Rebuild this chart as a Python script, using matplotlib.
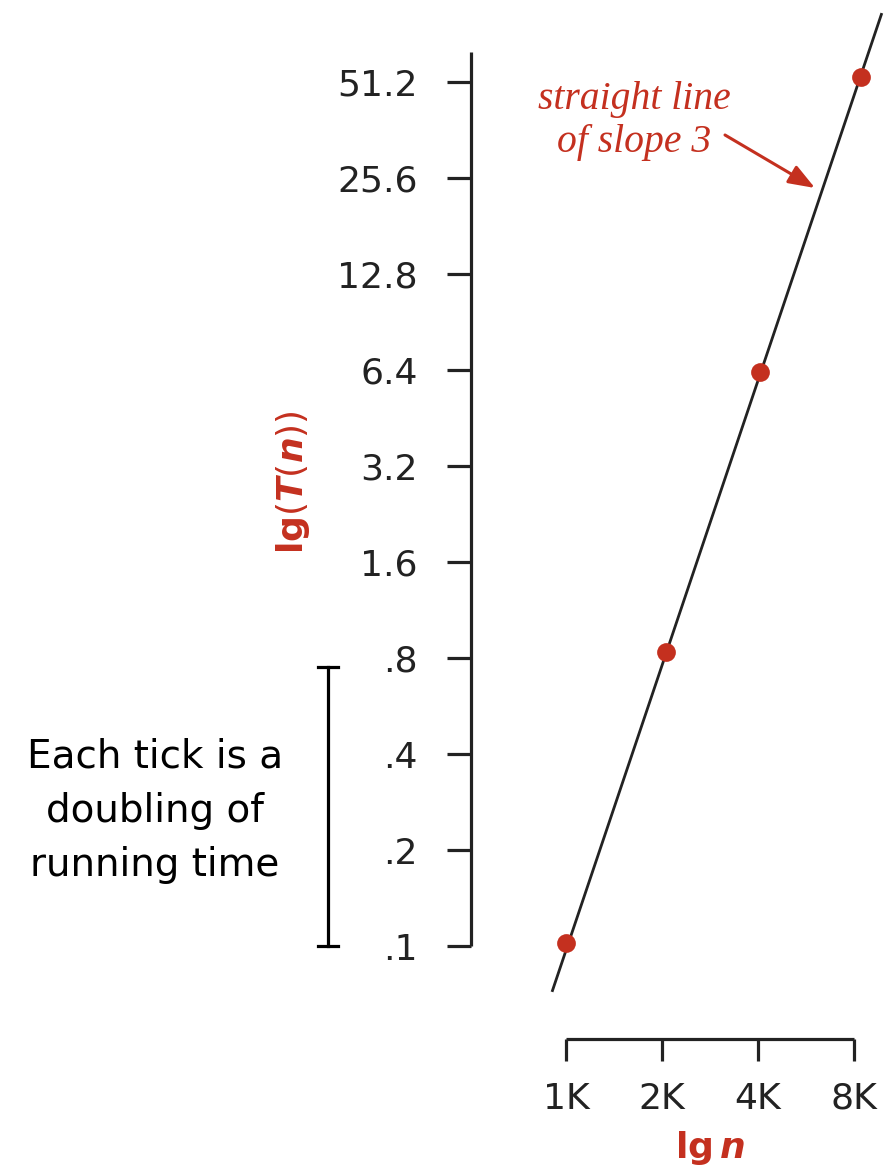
import matplotlib
matplotlib.use("Agg")
import matplotlib.pyplot as plt
from matplotlib.transforms import blended_transform_factory

# -----------------------------
# Data
# -----------------------------
n_ticks = [1000, 2000, 4000, 8000]
n_labels = ["1K", "2K", "4K", "8K"]
t_ticks = [0.1, 0.2, 0.4, 0.8, 1.6, 3.2, 6.4, 12.8, 25.6, 51.2]
t_labels = [".1", ".2", ".4", ".8", "1.6", "3.2", "6.4", "12.8", "25.6", "51.2"]

# measured running times
n_obs = [1000, 2060, 4060, 8400]
t_obs = [0.102, 0.835, 6.3, 53.0]

# fitted line of slope 3 on the log-log plot
n_fit = [904, 9780]
t_fit = [0.0718, 84.2]

RED = "#c4301f"
INK = "#222222"

plt.rcParams["font.family"] = ["DejaVu Sans"]
plt.rcParams["mathtext.fontset"] = "dejavusans"

# -----------------------------
# Figure: one axes filling the canvas, log2 on both sides
# -----------------------------
W, H = 891, 1169
fig = plt.figure(figsize=(W / 100, H / 100), dpi=100)
ax = fig.add_axes([0, 0, 1, 1])
ax.set_xscale("log", base=2)
ax.set_yscale("log", base=2)

step = 96.0          # pixels per doubling
x0, y0 = 566, 946    # where 1K and .1 sit
ax.set_xlim(1000 * 2 ** (-x0 / step), 1000 * 2 ** ((W - x0) / step))
ax.set_ylim(0.1 * 2 ** (-(H - y0) / step), 0.1 * 2 ** (y0 / step))
ax.patch.set_alpha(0)

# detached axis lines
for side in ["top", "right"]:
    ax.spines[side].set_visible(False)
ax.spines["left"].set_position(("axes", 471 / W))
ax.spines["left"].set_bounds(0.1, 0.1 * 2 ** ((y0 - 52) / step))
ax.spines["bottom"].set_position(("axes", 1 - 1039 / H))
ax.spines["bottom"].set_bounds(1000, 8000)
for side in ["left", "bottom"]:
    ax.spines[side].set_linewidth(2.3)
    ax.spines[side].set_color(INK)
    ax.spines[side].set_capstyle("butt")

ax.set_yticks(t_ticks)
ax.set_yticklabels(t_labels)
ax.set_xticks(n_ticks)
ax.set_xticklabels(n_labels)
ax.minorticks_off()
ax.tick_params(axis="y", direction="out", length=17.3, width=2.3, color=INK,
               pad=21, labelsize=26, labelcolor=INK)
ax.tick_params(axis="x", direction="out", length=15.8, width=2.3, color=INK,
               pad=15, labelsize=26, labelcolor=INK)

# line and points
ax.plot(n_fit, t_fit, color=INK, lw=2.0, solid_capstyle="butt", zorder=2)
ax.plot(n_obs, t_obs, "o", color=RED, markersize=13.5, markeredgewidth=0, zorder=3)

# axis titles
fig.text(710 / W, 1 - 1148 / H, r"$\mathbf{lg}\,\mathbfit{n}$", color=RED,
         fontsize=26, ha="center", va="center")
fig.text(293 / W, 1 - 482 / H, r"$\mathbf{lg}\mathrm{(}\mathbfit{T}\mathrm{(}\mathbfit{n}\mathrm{))}$",
         color=RED, fontsize=26, ha="center", va="center", rotation=90)

# annotation for the fitted line
fig.text(634 / W, 1 - 121 / H, "straight line\nof slope 3", color=RED,
         family="Liberation Serif", style="italic", fontsize=28.5,
         ha="center", va="center", linespacing=1.22)
ax.annotate("", xy=(815, H - 188), xytext=(725, H - 135),
            xycoords="figure pixels", textcoords="figure pixels",
            arrowprops=dict(arrowstyle="-|>,head_length=0.8,head_width=0.3",
                            mutation_scale=20, color=RED, lw=2.2,
                            shrinkA=0, shrinkB=0))

# bracket showing the span of three doublings
trans = blended_transform_factory(fig.transFigure, ax.transData)
bx, cap = 328 / W, 10 / W
br_lo, br_hi = 0.1, 0.75
ax.plot([bx, bx], [br_lo, br_hi], color="black", lw=2.3, transform=trans)
ax.plot([bx - cap, bx + cap], [br_hi, br_hi], color="black", lw=2.3, transform=trans)
ax.plot([bx - cap, bx + cap], [br_lo, br_lo], color="black", lw=2.3, transform=trans)

fig.text(155 / W, 1 - 811 / H, "Each tick is a\ndoubling of\nrunning time",
         color="black", fontsize=28, ha="center", va="center", linespacing=1.55)

fig.savefig("out.png", dpi=100)
